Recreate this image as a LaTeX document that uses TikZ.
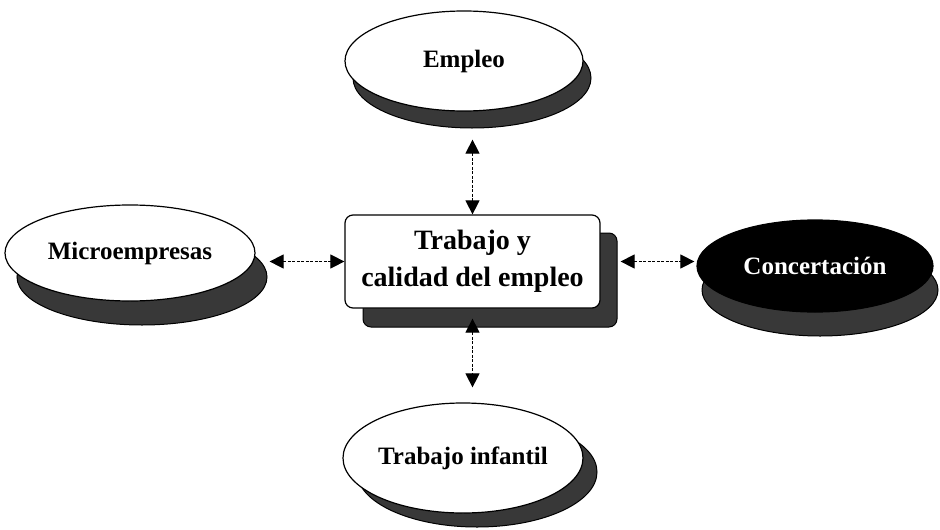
\documentclass[tikz,border=0pt]{standalone}
\usepackage{fontspec}
\setmainfont{Liberation Serif}
\usetikzlibrary{arrows.meta,shapes.geometric}
\begin{document}
\begin{tikzpicture}[x=1pt,y=-1pt,
  shadowfill/.style={fill=black!78, draw=black, line width=1pt},
  oval/.style={ellipse, draw=black, line width=1.2pt, fill=white, inner sep=0pt,
    font=\bfseries\fontsize{25}{28}\selectfont},
  boxst/.style={draw=black, line width=1.2pt, fill=white, rounded corners=8pt,
    align=center, inner sep=0pt, font=\bfseries\fontsize{28}{37}\selectfont},
  conn/.style={{Triangle[width=14pt,length=14pt]}-{Triangle[width=14pt,length=14pt]},
    line width=1pt, dash pattern=on 3pt off 1.5pt}]
\useasboundingbox (0,0) rectangle (940,530);
\fill[white] (0,0) rectangle (940,530);
% shadows
\filldraw[shadowfill] (472,78) ellipse [x radius=119, y radius=50];
\filldraw[shadowfill] (142,277) ellipse [x radius=125, y radius=48];
\filldraw[shadowfill] (820,290) ellipse [x radius=118, y radius=46];
\filldraw[shadowfill] (477,472) ellipse [x radius=120, y radius=55];
\filldraw[shadowfill, rounded corners=8pt] (363,233) rectangle (617,327);
% nodes
\node[oval, minimum width=238pt, minimum height=100pt] (empleo) at (464,61) {Empleo};
\node[oval, minimum width=250pt, minimum height=96pt] (micro) at (130,253) {Microempresas};
\node[oval, fill=black, text=white, minimum width=236pt, minimum height=92pt] (conc) at (815,266) {Concertación};
\node[oval, minimum width=240pt, minimum height=110pt] (infantil) at (463,458) {Trabajo infantil};
\node[boxst, minimum width=255pt, minimum height=93pt] (box) at (472.5,261.5) {Trabajo y\\calidad del empleo};
% connectors
\draw[conn, shorten <=28pt] (box.north |- empleo.south) -- (box.north);
\draw[conn, shorten <=14pt] (box.west -| micro.east) -- (box.west);
\draw[conn, shorten <=20pt, shorten >=2pt] (box.east) -- (box.east -| conc.west);
\draw[conn, shorten <=10pt, shorten >=15pt] (box.south) -- (box.south |- infantil.north);
\end{tikzpicture}
\end{document}
